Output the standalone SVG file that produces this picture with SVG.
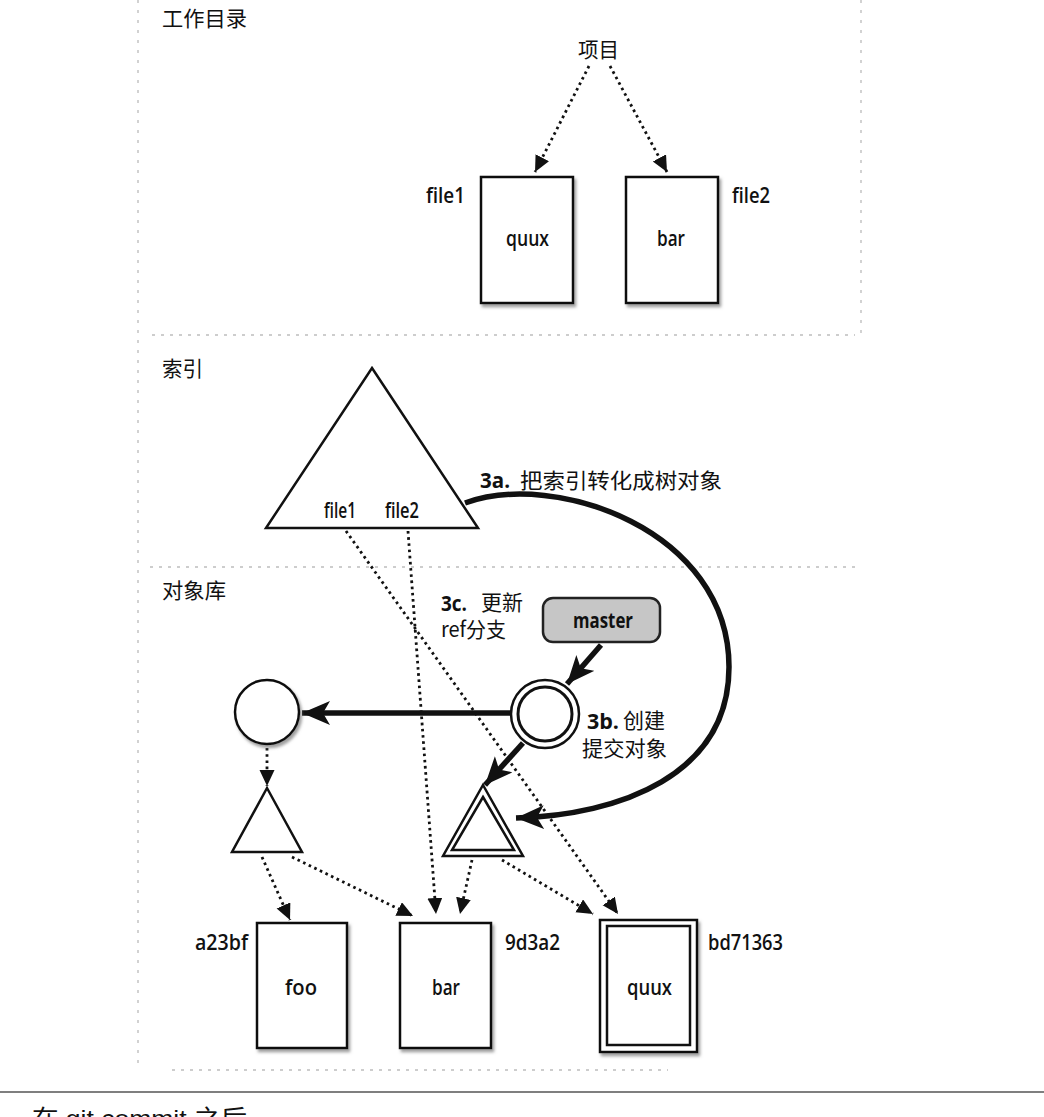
<svg xmlns="http://www.w3.org/2000/svg" width="1044" height="1117" viewBox="0 0 1044 1117">
<style>
  .frame{fill:none;stroke:#b5b5b5;stroke-width:1.2;stroke-dasharray:3 7}
  .sep{fill:none;stroke:#bdbdbd;stroke-width:1.5;stroke-dasharray:3 6}
  .box{fill:#fff;stroke:#111;stroke-width:2.5}
  .shape{fill:#fff;stroke:#111;stroke-width:2.5}
  .dot{fill:none;stroke:#111;stroke-width:2.8;stroke-dasharray:2.6 3.6;marker-end:url(#ah)}
  .thick{fill:none;stroke:#111;stroke-width:5.5;marker-end:url(#big)}
  .lbl{font-family:"Open Sans","Liberation Sans",sans-serif;font-weight:600;font-size:21px;fill:#111}
  .b{font-weight:bold}
  .cjk{font-family:"Noto Sans CJK SC","Liberation Sans",sans-serif;font-size:21px;fill:#111}
</style>
<defs>
  <filter id="sh" x="-20%" y="-20%" width="150%" height="150%">
    <feDropShadow dx="2" dy="3" stdDeviation="1.5" flood-color="#777" flood-opacity="0.7"/>
  </filter>
  <marker id="ah" markerUnits="userSpaceOnUse" markerWidth="18" markerHeight="16" refX="16" refY="7.5" orient="auto">
    <path d="M0,0 L16,7.5 L0,15 Z" fill="#111"/>
  </marker>
  <marker id="big" markerUnits="userSpaceOnUse" markerWidth="30" markerHeight="26" refX="28" refY="12" orient="auto">
    <path d="M0,0 L28,12 L0,24 L7,12 Z" fill="#111"/>
  </marker>
</defs>

<g id="frame">
  <line class="frame" x1="138" y1="0" x2="138" y2="1063"/>
  <line class="frame" x1="861" y1="0" x2="861" y2="335"/>
  <line class="sep" x1="152" y1="335" x2="855" y2="335"/>
  <line class="sep" x1="150" y1="567" x2="855" y2="567"/>
  <line class="sep" x1="172" y1="1070" x2="668" y2="1070"/>
  <line x1="0" y1="1092" x2="1044" y2="1092" stroke="#555" stroke-width="1.5"/>
</g>

<g id="section-labels">
  <text class="cjk" x="162" y="26" textLength="85" lengthAdjust="spacingAndGlyphs">工作目录</text>
  <text class="cjk" x="162" y="376" textLength="41" lengthAdjust="spacingAndGlyphs">索引</text>
  <text class="cjk" x="162" y="598" textLength="64" lengthAdjust="spacingAndGlyphs">对象库</text>
</g>

<g id="connectors">
  <line class="dot" x1="589" y1="66" x2="535" y2="172"/>
  <line class="dot" x1="610" y1="66" x2="667" y2="172"/>
  <line class="dot" x1="346" y1="531" x2="618" y2="914"/>
  <line class="dot" x1="408" y1="531" x2="436" y2="914"/>
  <line class="dot" x1="267" y1="748" x2="267" y2="786"/>
  <line class="dot" x1="262" y1="857" x2="290" y2="920"/>
  <line class="dot" x1="292" y1="857" x2="413" y2="916"/>
  <line class="dot" x1="472" y1="860" x2="460" y2="914"/>
  <line class="dot" x1="502" y1="860" x2="593" y2="914"/>
  <path class="thick" d="M465,503 C555,470 729,530 729,667 C729,775 620,815 516,818"/>
  <line class="thick" stroke-width="4.5" x1="601" y1="645" x2="567" y2="684"/>
  <line class="thick" x1="511" y1="713" x2="302" y2="713"/>
  <line class="thick" stroke-width="4.5" x1="523" y1="743" x2="485" y2="785"/>
</g>

<g id="project">
  <text class="cjk" x="578" y="57" textLength="41" lengthAdjust="spacingAndGlyphs">项目</text>
</g>

<g id="wd-file1">
  <rect class="box" filter="url(#sh)" x="481" y="177" width="92" height="126"/>
  <text class="lbl" x="426" y="203" textLength="39" lengthAdjust="spacingAndGlyphs">file1</text>
  <text class="lbl" x="506" y="246" textLength="43" lengthAdjust="spacingAndGlyphs">quux</text>
</g>
<g id="wd-file2">
  <rect class="box" filter="url(#sh)" x="626" y="177" width="92" height="126"/>
  <text class="lbl" x="732" y="203" textLength="38" lengthAdjust="spacingAndGlyphs">file2</text>
  <text class="lbl" x="657" y="246" textLength="28" lengthAdjust="spacingAndGlyphs">bar</text>
</g>

<g id="index">
  <polygon class="shape" points="372,368 478,528 266,528"/>
  <text class="lbl" font-size="20" x="324" y="518" textLength="32" lengthAdjust="spacingAndGlyphs">file1</text>
  <text class="lbl" font-size="20" x="385" y="518" textLength="34" lengthAdjust="spacingAndGlyphs">file2</text>
</g>

<g id="step-3a">
  <text class="lbl b" x="480" y="488" textLength="30" lengthAdjust="spacingAndGlyphs">3a.</text>
  <text class="cjk" x="520" y="488" textLength="202" lengthAdjust="spacingAndGlyphs">把索引转化成树对象</text>
</g>

<g id="step-3c">
  <text class="lbl b" x="441" y="611" textLength="26" lengthAdjust="spacingAndGlyphs">3c.</text>
  <text class="cjk" x="481" y="610" textLength="42" lengthAdjust="spacingAndGlyphs">更新</text>
  <text class="cjk" x="441" y="637" textLength="65" lengthAdjust="spacingAndGlyphs">ref分支</text>
</g>

<g id="master">
  <rect x="543" y="598" width="117" height="44" rx="10" fill="#c6c6c6" stroke="#222" stroke-width="2.5"/>
  <text class="lbl b" x="573" y="628" textLength="60" lengthAdjust="spacingAndGlyphs">master</text>
</g>

<g id="new-commit">
  <circle class="shape" cx="545" cy="714" r="34" stroke-width="3"/>
  <circle fill="none" stroke="#111" stroke-width="3" cx="545" cy="714" r="27"/>
</g>

<g id="step-3b">
  <text class="lbl b" x="587" y="729" textLength="32" lengthAdjust="spacingAndGlyphs">3b.</text>
  <text class="cjk" x="623" y="728" textLength="42" lengthAdjust="spacingAndGlyphs">创建</text>
  <text class="cjk" x="582" y="756" textLength="85" lengthAdjust="spacingAndGlyphs">提交对象</text>
</g>

<g id="old-commit">
  <circle class="shape" filter="url(#sh)" cx="267" cy="712" r="32"/>
</g>

<g id="old-tree">
  <polygon class="shape" points="267,788 302,852 232,852"/>
</g>

<g id="new-tree">
  <polygon class="shape" stroke-width="3" points="483,785 523,856 443,856"/>
  <polygon fill="none" stroke="#111" stroke-width="2.5" points="483,797 514,850 452,850"/>
</g>

<g id="blob-foo">
  <rect class="box" filter="url(#sh)" x="257" y="923" width="90" height="125"/>
  <text class="lbl" x="195" y="950" textLength="53" lengthAdjust="spacingAndGlyphs">a23bf</text>
  <text class="lbl" x="285" y="995" textLength="32" lengthAdjust="spacingAndGlyphs">foo</text>
</g>
<g id="blob-bar">
  <rect class="box" filter="url(#sh)" x="400" y="923" width="91" height="125"/>
  <text class="lbl" x="505" y="950" textLength="55" lengthAdjust="spacingAndGlyphs">9d3a2</text>
  <text class="lbl" x="432" y="995" textLength="28" lengthAdjust="spacingAndGlyphs">bar</text>
</g>
<g id="blob-quux">
  <rect class="box" filter="url(#sh)" stroke-width="3" x="600" y="920" width="97" height="132"/>
  <rect fill="none" stroke="#111" stroke-width="2.5" x="607" y="926" width="83" height="119"/>
  <text class="lbl" x="708" y="950" textLength="75" lengthAdjust="spacingAndGlyphs">bd71363</text>
  <text class="lbl" x="627" y="995" textLength="45" lengthAdjust="spacingAndGlyphs">quux</text>
</g>

<g id="caption">
  <text font-family="Liberation Sans,Noto Sans CJK SC,sans-serif" font-size="24" fill="#111" x="32" y="1127" textLength="215" lengthAdjust="spacingAndGlyphs">在 git commit 之后</text>
</g>
</svg>
